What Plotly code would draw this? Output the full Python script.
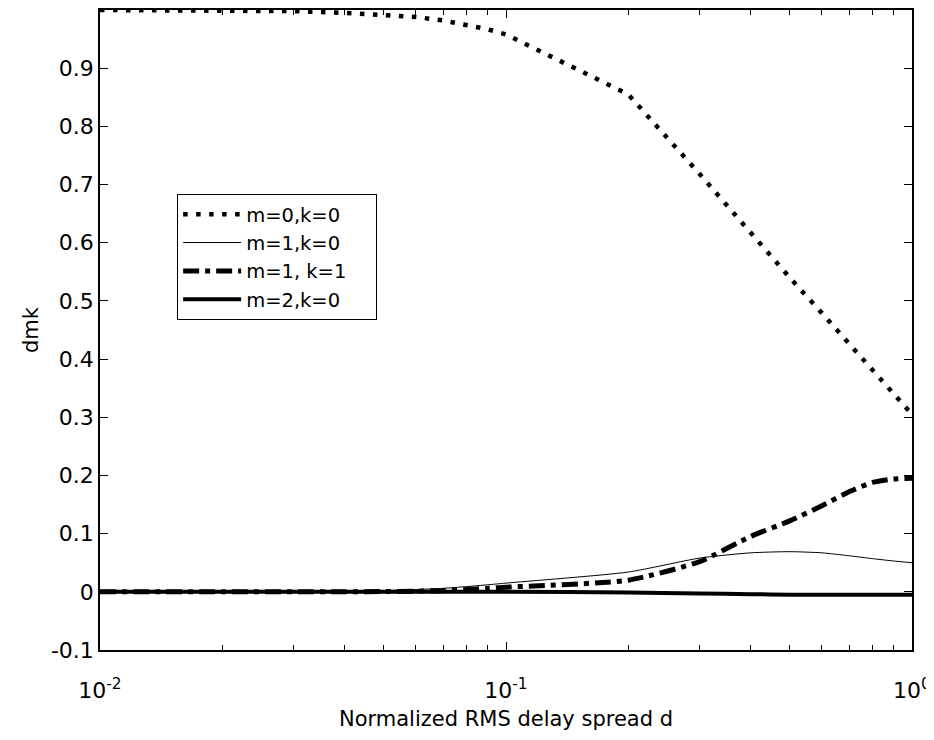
import plotly.graph_objects as go

d = [0.01, 0.02, 0.03, 0.04, 0.05, 0.06, 0.07, 0.08, 0.09, 0.1,
     0.2, 0.3, 0.4, 0.5, 0.6, 0.7, 0.8, 0.9, 1.0]

m0k0 = [1.0, 0.999, 0.998, 0.995, 0.992, 0.988, 0.982, 0.975, 0.967, 0.958,
        0.855, 0.718, 0.617, 0.540, 0.479, 0.426, 0.381, 0.341, 0.305]
m1k0 = [0.0, 0.0, 0.0005, 0.001, 0.002, 0.004, 0.006, 0.009, 0.012, 0.015,
        0.034, 0.058, 0.067, 0.069, 0.067, 0.062, 0.057, 0.053, 0.050]
m1k1 = [0.0, 0.0, 0.0, 0.0, 0.0005, 0.001, 0.002, 0.004, 0.006, 0.008,
        0.020, 0.052, 0.095, 0.122, 0.148, 0.172, 0.188, 0.194, 0.195]
m2k0 = [0.0, 0.0, 0.0, 0.0, 0.0, 0.0, 0.0, 0.0, 0.0, 0.0,
        -0.001, -0.003, -0.004, -0.005, -0.005, -0.005, -0.005, -0.005, -0.005]

names = ["m=0,k=0", "m=1,k=0", "m=1, k=1", "m=2,k=0"]

x_tickvals = [0.01, 0.1, 1]
x_ticktext = ["10<sup>-2</sup>", "10<sup>-1</sup>", "10<sup>0</sup>"]
x_minor = [k * 10 ** e for e in (-2, -1) for k in range(2, 10)]
y_tickvals = [-0.1, 0, 0.1, 0.2, 0.3, 0.4, 0.5, 0.6, 0.7, 0.8, 0.9]
y_ticktext = ["-0.1", "0", "0.1", "0.2", "0.3", "0.4", "0.5", "0.6", "0.7", "0.8", "0.9"]

pad = "\u00a0" * 4
fig = go.Figure()
fig.add_trace(go.Scatter(x=d, y=m0k0, mode="lines", name=names[0] + pad,
                         line=dict(color="black", width=4.5, dash="4.5px,8.5px")))
fig.add_trace(go.Scatter(x=d, y=m1k0, mode="lines", name=names[1] + pad,
                         line=dict(color="black", width=1, shape="spline", smoothing=0.6)))
fig.add_trace(go.Scatter(x=d, y=m1k1, mode="lines", name=names[2] + pad,
                         line=dict(color="black", width=5, dash="16px,6px,5px,6px",
                                   shape="spline", smoothing=0.6)))
fig.add_trace(go.Scatter(x=d, y=m2k0, mode="lines", name=names[3] + pad,
                         line=dict(color="black", width=4, shape="spline", smoothing=0.6)))

font = "DejaVu Sans, Arial, sans-serif"
fig.update_layout(
    width=926, height=724,
    margin=dict(l=92, r=22, t=2, b=82),
    paper_bgcolor="white", plot_bgcolor="white",
    font=dict(family=font, size=21, color="black"),
    showlegend=True,
    legend=dict(x=0.095, y=0.7125, xanchor="left", yanchor="top",
                bordercolor="black", borderwidth=1, bgcolor="white",
                font=dict(size=19.5), tracegroupgap=0, itemwidth=58),
    xaxis=dict(type="log", range=[-2, 0], tickmode="array",
               tickvals=x_tickvals, ticktext=x_ticktext, automargin=False,
               ticks="inside", ticklen=8, tickwidth=1, tickcolor="black",
               ticklabelstandoff=20, ticklabeloverflow="allow",
               showline=True, linecolor="black", linewidth=1.5, mirror="ticks",
               showgrid=False, zeroline=False,
               minor=dict(tickmode="array", tickvals=x_minor, ticks="inside",
                          ticklen=5, tickcolor="black", showgrid=False),
               title=dict(text="Normalized RMS delay spread d", standoff=9,
                          font=dict(size=21)),
               tickfont=dict(size=22)),
    yaxis=dict(range=[-0.1, 1.0], tickmode="array",
               tickvals=y_tickvals, ticktext=y_ticktext, automargin=False,
               ticks="inside", ticklen=8, tickwidth=1, tickcolor="black",
               showline=True, linecolor="black", linewidth=1.5, mirror="ticks",
               showgrid=False, zeroline=False,
               title=dict(text="dmk", standoff=7, font=dict(size=21)),
               tickfont=dict(size=22)),
)

fig.write_html("out.html")
